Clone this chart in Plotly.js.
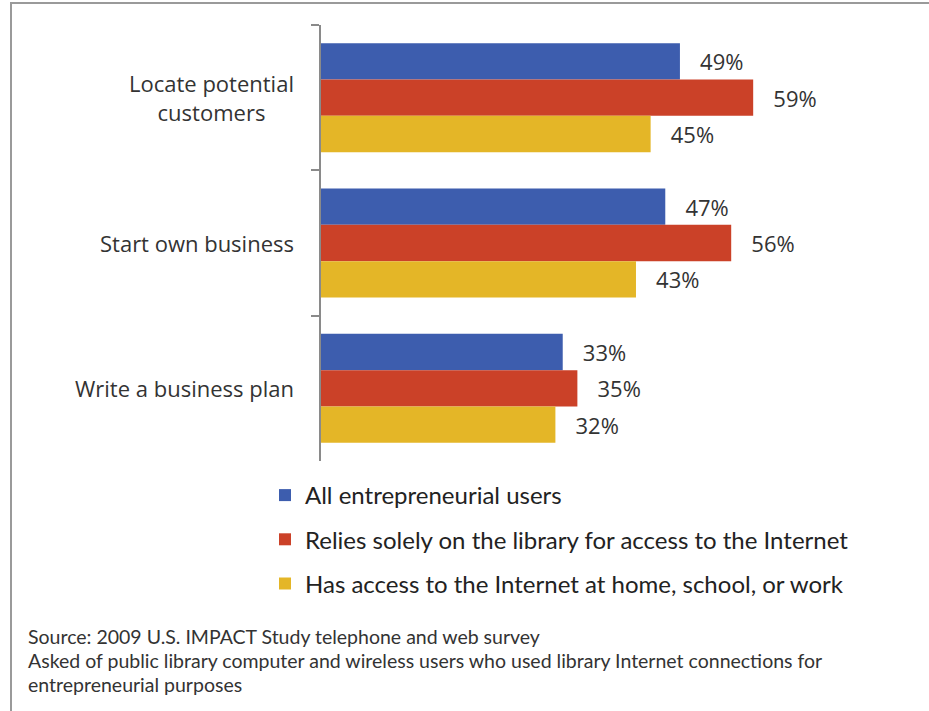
<!DOCTYPE html>
<html>
<head>
<meta charset="utf-8">
<script src="https://cdn.plot.ly/plotly-3.0.1.min.js"></script>
<style>
html,body{margin:0;padding:0;background:#fff;overflow:hidden;}
#chart{width:929px;height:711px;overflow:hidden;}
</style>
</head>
<body>
<div id="chart"></div>
<script>
var categories = ["Locate potential<br>customers", "Start own business", "Write a business plan"];
var seriesNames = [
  "All entrepreneurial users",
  "Relies solely on the library for access to the Internet",
  "Has access to the Internet at home, school, or work"
];
var allUsers = [49, 47, 33];
var reliesLibrary = [59, 56, 35];
var hasAccess = [45, 43, 32];
var footnotes = [
  "Source: 2009 U.S. IMPACT Study telephone and web survey",
  "Asked of public library computer and wireless users who used library Internet connections for",
  "entrepreneurial purposes"
];

var colors = ["#3D5DAE", "#CB4128", "#E4B627"];
var seriesValues = [allUsers, reliesLibrary, hasAccess];

var W = 929, H = 711;
var mL = 321, mR = 22, mT = 25, mB = 250;
var pw = W - mL - mR, ph = H - mT - mB;
function px2x(px){ return (px - mL) / pw; }
function py2y(py){ return (H - mB - py) / ph; }

var traces = seriesValues.map(function(vals, i){
  return {
    type: "bar",
    orientation: "h",
    name: seriesNames[i],
    legendgroup: "g" + i,
    y: categories,
    x: vals,
    marker: {color: colors[i]},
    text: vals.map(function(v){ return "\u00a0\u00a0\u00a0" + v + "%"; }),
    textposition: "outside",
    outsidetextfont: {family: "Open Sans", size: 22, color: "#333"},
    cliponaxis: false,
    hoverinfo: "skip"
  };
});

var annotations = categories.map(function(c){
  return {
    xref: "paper", yref: "y",
    x: px2x(296), y: c,
    xanchor: "right", yanchor: "middle",
    align: "center",
    text: c,
    showarrow: false,
    font: {family: "Open Sans", size: 22, color: "#333"}
  };
});
footnotes.forEach(function(t, i){
  annotations.push({
    xref: "paper", yref: "paper",
    x: px2x(26), y: py2y(636 + i * 24),
    xanchor: "left", yanchor: "middle",
    text: t, showarrow: false,
    font: {family: "Lato", size: 19.5, color: "#333"}
  });
});

var layout = {
  width: W, height: H,
  margin: {l: mL, r: mR, t: mT, b: mB, pad: 0, autoexpand: false},
  paper_bgcolor: "#fff", plot_bgcolor: "#fff",
  barmode: "group",
  bargap: 0.25,
  bargroupgap: 0,
  showlegend: true,
  legend: {
    xref: "container", yref: "container",
    x: 265 / W, y: 1 - 473 / H,
    xanchor: "left", yanchor: "top",
    traceorder: "grouped",
    tracegroupgap: 10,
    font: {family: "Lato", size: 24, color: "#222"},
    bgcolor: "rgba(0,0,0,0)"
  },
  xaxis: {range: [0, 80], visible: false, fixedrange: true},
  yaxis: {
    type: "category",
    autorange: "reversed",
    tickson: "boundaries",
    ticks: "outside", ticklen: 8, tickwidth: 2, tickcolor: "#8a8a8a",
    showline: true, linecolor: "#8a8a8a", linewidth: 2,
    showgrid: false, zeroline: false,
    showticklabels: false,
    fixedrange: true
  },
  annotations: annotations,
  shapes: [{
    type: "rect", xref: "paper", yref: "paper",
    x0: px2x(11), x1: px2x(940), y0: py2y(3), y1: py2y(720),
    line: {color: "#9a9a9a", width: 2},
    fillcolor: "rgba(0,0,0,0)", layer: "below"
  }]
};

Plotly.newPlot("chart", traces, layout, {displayModeBar: false, staticPlot: true});
</script>
</body>
</html>
